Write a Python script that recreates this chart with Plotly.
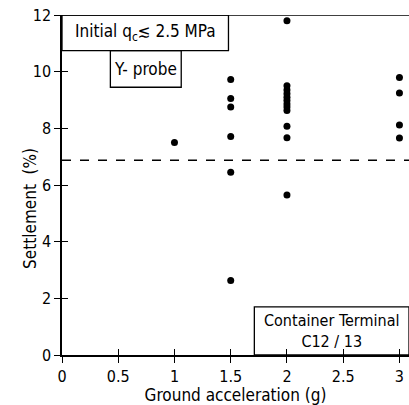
import plotly.graph_objects as go

# Data
acc_x = [1.0,
         1.5, 1.5, 1.5, 1.5, 1.5, 1.5,
         2.0, 2.0, 2.0, 2.0, 2.0, 2.0, 2.0, 2.0, 2.0, 2.0, 2.0, 2.0,
         3.0, 3.0, 3.0, 3.0]
settle_y = [7.5,
            9.72, 9.05, 8.75, 7.71, 6.45, 2.63,
            11.8, 9.5, 9.35, 9.22, 9.1, 8.98, 8.86, 8.75, 8.63, 8.07, 7.67, 5.65,
            9.79, 9.25, 8.12, 7.66]
threshold = 6.87
x_ticks = [0, 0.5, 1, 1.5, 2, 2.5, 3]
x_labels = ["0", "0.5", "1", "1.5", "2", "2.5", "3"]
y_ticks = [0, 2, 4, 6, 8, 10, 12]

FONT = "DejaVu Sans Condensed, DejaVu Sans"
XR = [0, 3.085]
YR = [0, 12]

fig = go.Figure()
fig.add_trace(go.Scatter(x=acc_x, y=settle_y, mode="markers",
                         marker=dict(color="black", size=7), showlegend=False,
                         cliponaxis=False))
fig.add_trace(go.Scatter(x=XR, y=[threshold, threshold], mode="lines",
                         line=dict(color="black", width=1.5, dash="dash"),
                         showlegend=False))
fig.add_trace(go.Scatter(x=[0], y=[0], xaxis="x2", yaxis="y2", mode="markers",
                         marker=dict(size=1, opacity=0), showlegend=False,
                         hoverinfo="skip"))

axis_common = dict(showgrid=False, zeroline=False, linecolor="black", linewidth=1.5,
                   tickcolor="black", tickwidth=1.2, ticklen=6,
                   tickfont=dict(family=FONT, size=16, color="black"))

fig.update_layout(
    width=409, height=405,
    margin=dict(l=62, r=0, t=15, b=50),
    plot_bgcolor="white", paper_bgcolor="white",
    font=dict(family=FONT, color="black"),
    xaxis=dict(range=XR, tickvals=x_ticks, ticktext=x_labels, ticks="outside",
               showline=True, mirror=False,
               title=dict(text="Ground acceleration (g)", font=dict(size=17, family=FONT), standoff=2),
               **axis_common),
    yaxis=dict(range=YR, tickvals=y_ticks, ticks="outside", showline=True,
               **axis_common),
    xaxis2=dict(range=XR, tickvals=x_ticks, ticks="inside", showticklabels=False,
                overlaying="x", anchor="y", side="bottom", showline=False,
                showgrid=False, zeroline=False, tickcolor="black", tickwidth=1.2, ticklen=6),
    yaxis2=dict(range=YR, tickvals=y_ticks, ticks="inside", showticklabels=False,
                overlaying="y", anchor="x", side="left", showline=False,
                showgrid=False, zeroline=False, tickcolor="black", tickwidth=1.2, ticklen=6),
)

# y-axis title placed like the reference
fig.add_annotation(x=-0.092, y=0.43, xref="paper", yref="paper", showarrow=False,
                   xanchor="center", yanchor="middle",
                   text="Settlement  (%)", textangle=-90,
                   font=dict(family=FONT, size=17, color="black"))

# top border line
fig.add_shape(type="line", xref="x", yref="y", x0=XR[0], x1=XR[1], y0=12, y1=12,
              line=dict(color="black", width=1.5))

# Boxes
fig.add_shape(type="rect", xref="x", yref="y", x0=0, x1=1.48, y0=10.74, y1=12,
              line=dict(color="black", width=1.3))
fig.add_shape(type="rect", xref="x", yref="y", x0=0.43, x1=1.06, y0=9.45, y1=10.74,
              line=dict(color="black", width=1.3))
fig.add_shape(type="rect", xref="x", yref="y", x0=1.71, x1=XR[1], y0=0, y1=1.7,
              line=dict(color="black", width=1.3))

fig.add_annotation(x=0.74, y=11.37, xref="x", yref="y", showarrow=False,
                   text="Initial q<sub>c</sub>≲ 2.5 MPa",
                   font=dict(family=FONT, size=17, color="black"))
fig.add_annotation(x=0.745, y=10.1, xref="x", yref="y", showarrow=False,
                   text="Y- probe", font=dict(family=FONT, size=17, color="black"))
fig.add_annotation(x=2.4, y=0.85, xref="x", yref="y", showarrow=False,
                   text="Container Terminal<br>C12 / 13",
                   font=dict(family=FONT, size=16, color="black"))

fig.write_html("out.html", config={"displayModeBar": False},
               post_script="document.body.style.margin='0';document.body.style.padding='0';")
